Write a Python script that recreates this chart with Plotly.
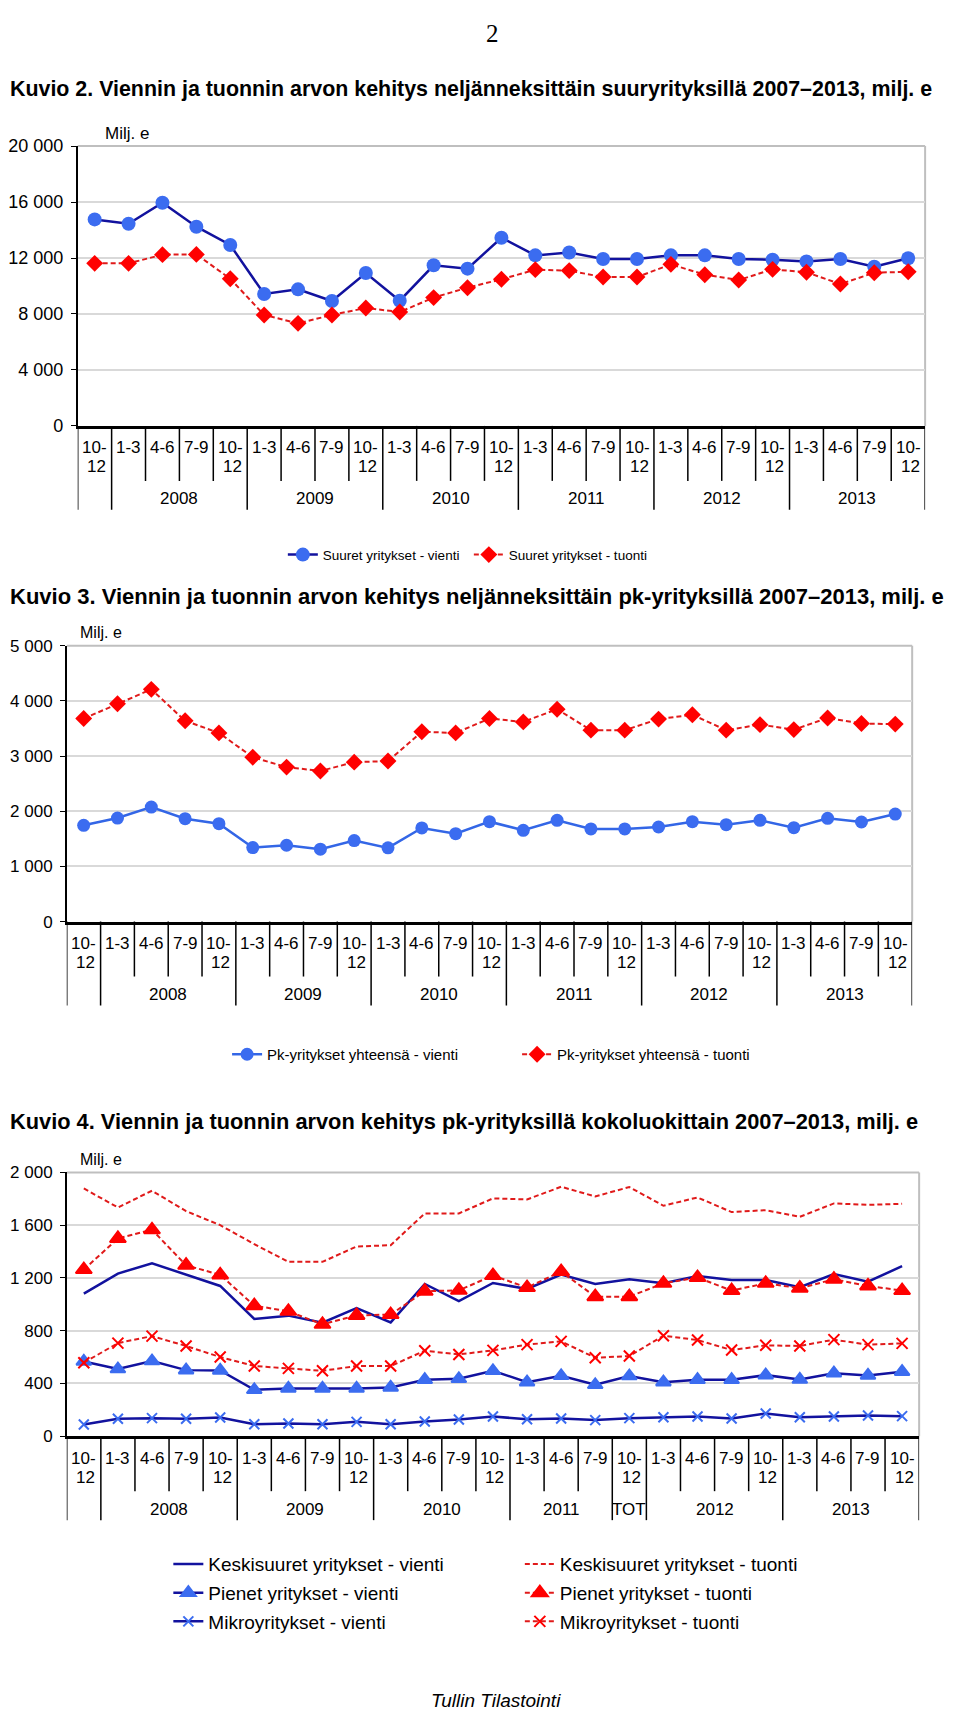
import plotly.graph_objects as go

# page targets are given in page pixels; measured offset/scale of the rendered figure in the page
FW, FH = 944, 1711
X_OFF, Y_OFF, Y_SCALE = 8, 15.8, 0.989

# ---- data ----
quarters = ["10-12"] + ["1-3", "4-6", "7-9", "10-12"] * 6
years_a = [("", 0, 0), ("2008", 1, 4), ("2009", 5, 8), ("2010", 9, 12),
           ("2011", 13, 16), ("2012", 17, 20), ("2013", 21, 24)]
years_b = [("", 0, 0), ("2008", 1, 4), ("2009", 5, 8), ("2010", 9, 12),
           ("2011", 13, 15), ("TOT", 16, 16), ("2012", 17, 20), ("2013", 21, 24)]

suuret_vienti = [14760, 14450, 15950, 14240, 12930, 9430, 9760, 8930, 10930, 8950, 11480, 11240, 13450,
                 12190, 12400, 11930, 11930, 12190, 12190, 11930, 11880, 11760, 11930, 11380, 11980]
suuret_tuonti = [11620, 11620, 12240, 12260, 10520, 7930, 7330, 7930, 8430, 8140, 9170, 9880, 10480,
                 11170, 11100, 10640, 10640, 11550, 10810, 10430, 11190, 10980, 10140, 10950, 11020]

pk_vienti = [1745, 1877, 2076, 1865, 1775, 1342, 1384, 1312, 1468, 1336, 1697, 1594, 1811,
             1655, 1835, 1679, 1679, 1715, 1811, 1757, 1835, 1703, 1871, 1805, 1949]
pk_tuonti = [3680, 3950, 4210, 3640, 3420, 2980, 2800, 2730, 2890, 2910, 3440, 3420, 3680,
             3620, 3850, 3470, 3470, 3670, 3750, 3470, 3570, 3480, 3690, 3590, 3580]

keski_vienti = [1081, 1233, 1311, 1223, 1139, 889, 914, 861, 972, 863, 1154, 1025, 1162,
                1116, 1225, 1154, 1190, 1159, 1215, 1185, 1185, 1129, 1230, 1172, 1289]
keski_tuonti = [1878, 1734, 1861, 1706, 1600, 1456, 1322, 1322, 1438, 1448, 1689, 1689, 1803,
                1795, 1891, 1818, 1889, 1747, 1810, 1699, 1714, 1663, 1765, 1754, 1762]
pienet_vienti = [567, 509, 570, 501, 499, 352, 362, 362, 362, 370, 428, 435, 496,
                 410, 458, 390, 456, 410, 428, 428, 463, 430, 478, 461, 489]
pienet_tuonti = [1263, 1499, 1565, 1296, 1223, 990, 947, 848, 916, 922, 1099, 1106, 1218,
                 1127, 1248, 1058, 1058, 1159, 1203, 1104, 1159, 1122, 1190, 1139, 1104]
mikro_vienti = [89, 132, 137, 132, 142, 91, 96, 91, 109, 91, 111, 127, 149,
                129, 134, 122, 137, 144, 149, 134, 172, 144, 149, 157, 152]
mikro_tuonti = [557, 706, 759, 684, 600, 532, 514, 496, 532, 532, 648, 620, 651,
                694, 719, 595, 608, 762, 729, 653, 689, 684, 732, 694, 704]

xs = list(range(len(quarters)))

NAVY = "#12129e"
BLUE = "#3b6cf0"
RED = "#ff0000"
DRED = "#e01a1a"
ARIAL = "Liberation Sans, Arial"


def fx(p):
    return (p - X_OFF) / FW


def fy(p):
    return 1 - ((p - Y_OFF) / Y_SCALE) / FH


# plot boxes in page pixels: x0, x1, ytop, ybottom
boxes = [(74, 925, 144, 424), (63, 912, 644, 920), (63, 919, 1171, 1435)]
yranges = [(0, 20000, 4000), (0, 5000, 1000), (0, 2000, 400)]
tick_sizes = [18, 17, 17]
cat_sizes = [17, 17, 17]
milj_x = [99, 74, 74]
yearsets = [years_a, years_a, years_b]

fig = go.Figure()

# chart 1
fig.add_trace(go.Scatter(x=xs, y=suuret_vienti, name="Suuret yritykset - vienti", mode="lines+markers",
                         line=dict(color=NAVY, width=2.5), marker=dict(symbol="circle", size=14, color=BLUE),
                         xaxis="x", yaxis="y", legend="legend"))
fig.add_trace(go.Scatter(x=xs, y=suuret_tuonti, name="Suuret yritykset - tuonti", mode="lines+markers",
                         line=dict(color=DRED, width=2, dash="5px,3px"),
                         marker=dict(symbol="diamond", size=13, color=RED),
                         xaxis="x", yaxis="y", legend="legend"))
# chart 2
fig.add_trace(go.Scatter(x=xs, y=pk_vienti, name="Pk-yritykset yhteensä - vienti", mode="lines+markers",
                         line=dict(color="#3366e6", width=2.5), marker=dict(symbol="circle", size=13, color=BLUE),
                         xaxis="x2", yaxis="y2", legend="legend2"))
fig.add_trace(go.Scatter(x=xs, y=pk_tuonti, name="Pk-yritykset yhteensä - tuonti", mode="lines+markers",
                         line=dict(color=DRED, width=2, dash="5px,3px"),
                         marker=dict(symbol="diamond", size=13, color=RED),
                         xaxis="x2", yaxis="y2", legend="legend2"))
# chart 3
c3 = [
    (keski_vienti, "Keskisuuret yritykset - vienti", "lines", NAVY, None, None, 0, "legend3"),
    (pienet_vienti, "Pienet yritykset - vienti", "lines+markers", NAVY, "triangle-up", BLUE, 13, "legend3"),
    (mikro_vienti, "Mikroyritykset - vienti", "lines+markers", NAVY, "x-thin-open", BLUE, 10, "legend3"),
    (keski_tuonti, "Keskisuuret yritykset - tuonti", "lines", DRED, None, None, 0, "legend4"),
    (pienet_tuonti, "Pienet yritykset - tuonti", "lines+markers", DRED, "triangle-up", RED, 14, "legend4"),
    (mikro_tuonti, "Mikroyritykset - tuonti", "lines+markers", DRED, "x-thin-open", RED, 11, "legend4"),
]
for i, (vals, name, mode, lc, sym, mc, ms, lg) in enumerate(c3):
    dash = "solid" if lg == "legend3" else "5px,3px"
    lw = 2.5 if lg == "legend3" else 2
    mk = dict(symbol=sym, size=ms, color=mc, line=dict(color=mc, width=2)) if sym else None
    fig.add_trace(go.Scatter(x=xs, y=vals, name=name, mode=mode, line=dict(color=lc, width=lw, dash=dash),
                             marker=mk, xaxis="x3", yaxis="y3", legend=lg, legendgroup=f"g{i}"))

shapes = []
annotations = []


def text(t, x, y, size, xref="paper", xanchor="center", yanchor="middle", family=ARIAL, xshift=0):
    annotations.append(dict(text=t, x=x, y=y, xref=xref, yref="paper", xanchor=xanchor, yanchor=yanchor,
                            xshift=xshift, showarrow=False, font=dict(family=family, size=size, color="black")))


for k, ((x0, x1, yt, yb), (r0, r1, st), ts, cs, mx, yrs) in enumerate(
        zip(boxes, yranges, tick_sizes, cat_sizes, milj_x, yearsets)):
    sfx = "" if k == 0 else str(k + 1)
    fig.update_layout({
        f"xaxis{sfx}": dict(domain=[fx(x0), fx(x1)], range=[-0.5, len(xs) - 0.5], anchor=f"y{sfx}",
                            showticklabels=False, showgrid=False, zeroline=False, ticks="",
                            showline=True, linecolor="black", linewidth=2.5),
        f"yaxis{sfx}": dict(domain=[fy(yb), fy(yt)], range=[r0, r1], anchor=f"x{sfx}",
                            tickvals=list(range(r0, r1 + 1, st)), tickformat=",d",
                            showgrid=True, gridcolor="#d9d9d9", gridwidth=1.5, zeroline=False,
                            showline=True, linecolor="black", linewidth=1.5,
                            ticks="outside", ticklen=5, tickcolor="black", ticklabelstandoff=4,
                            tickfont=dict(family=ARIAL, size=ts, color="black")),
    })
    xr = f"x{sfx}"
    # gray frame top/right
    for sx0, sx1, sy0, sy1 in [(0, 1, 1, 1), (1, 1, 0, 1)]:
        shapes.append(dict(type="line", xref=f"{xr} domain", yref=f"y{sfx} domain",
                           x0=sx0, x1=sx1, y0=sy0, y1=sy1, line=dict(color="#bfbfbf", width=2), layer="below"))
    # category separators
    long_b = set()
    for _, a, b in yrs:
        long_b.add(a - 0.5)
        long_b.add(b + 0.5)
    for i in range(len(xs) + 1):
        bx = i - 0.5
        end = yb + (84 if bx in long_b else 55)
        shapes.append(dict(type="line", xref=xr, yref="paper", x0=bx, x1=bx, y0=fy(yb), y1=fy(end),
                           line=dict(color="black", width=1.5)))
    # quarter labels (10-12 wraps onto two lines)
    for q, x in zip(quarters, xs):
        if q == "10-12":
            text("10-", x, fy(yb + 22), cs, xref=xr)
            text("12", x, fy(yb + 41), cs, xref=xr, xshift=2)
        else:
            text(q, x, fy(yb + 22), cs, xref=xr)
    for lab, a, b in yrs:
        if lab:
            text(lab, (a + b) / 2, fy(yb + 73), cs, xref=xr)
    text("Milj. e", fx(mx), fy(yt - 13), ts - 1, xanchor="left")

titles = [
    ("Kuvio 2. Viennin ja tuonnin arvon kehitys neljänneksittäin suuryrityksillä 2007–2013, milj. e", 87, 21.4),
    ("Kuvio 3. Viennin ja tuonnin arvon kehitys neljänneksittäin pk-yrityksillä 2007–2013, milj. e", 595, 22),
    ("Kuvio 4. Viennin ja tuonnin arvon kehitys pk-yrityksillä kokoluokittain 2007–2013, milj. e", 1120, 21.8),
]
for t, y, fs in titles:
    text(f"<b>{t}</b>", fx(4), fy(y), fs, xanchor="left")
text("2", fx(491), 1, 25, yanchor="top", family="Liberation Serif, Times New Roman")
text("<i>Tullin Tilastointi</i>", fx(494), fy(1699), 19)

leg_common = dict(bgcolor="rgba(0,0,0,0)", xanchor="left", yanchor="middle")
fig.update_layout(
    width=FW, height=FH, margin=dict(l=0, r=0, t=0, b=0),
    paper_bgcolor="white", plot_bgcolor="white",
    separators=", ",
    shapes=shapes, annotations=annotations,
    legend=dict(x=fx(280), y=fy(553), orientation="h", entrywidth=141,
                font=dict(family=ARIAL, size=13.5, color="black"), **leg_common),
    legend2=dict(x=fx(224), y=fy(1053), orientation="h", entrywidth=245,
                 font=dict(family=ARIAL, size=15, color="black"), **leg_common),
    legend3=dict(x=fx(165), y=fy(1592), orientation="v", tracegroupgap=1,
                 font=dict(family=ARIAL, size=19, color="black"), **leg_common),
    legend4=dict(x=fx(518), y=fy(1592), orientation="v", tracegroupgap=1,
                 font=dict(family=ARIAL, size=19, color="black"), **leg_common),
)

fig.write_html("out.html")
